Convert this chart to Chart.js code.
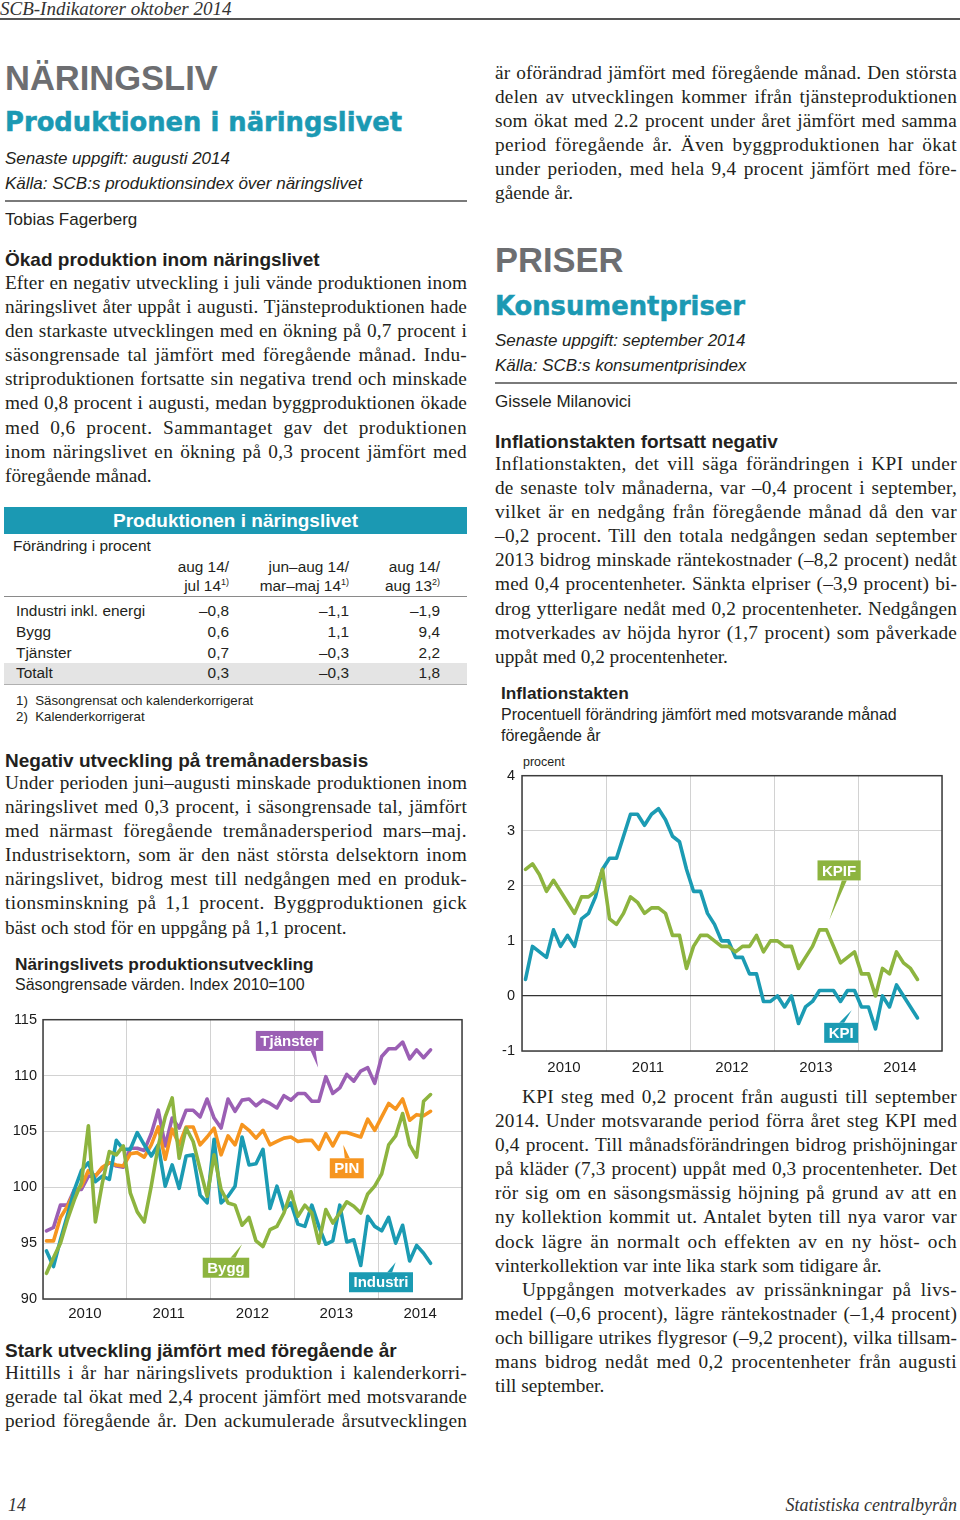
<!DOCTYPE html>
<html lang="sv">
<head>
<meta charset="utf-8">
<title>SCB-Indikatorer oktober 2014</title>
<script src="https://cdn.jsdelivr.net/npm/chart.js@4.4.1/dist/chart.umd.min.js"></script>
<style>
  html, body { margin: 0; padding: 0; background: #fff; }
  body { width: 960px; height: 1520px; position: relative; overflow: hidden;
         font-family: "Liberation Sans", Arial, sans-serif; color: #231f20; }
  .abs { position: absolute; white-space: nowrap; line-height: 1; }
  .serif { font-family: "Liberation Serif", "Times New Roman", serif; }
  .sec { font-size: 34.5px; font-weight: bold; color: #6d6e71; }
  .title { font-family: "DejaVu Sans", sans-serif; font-size: 25.8px; font-weight: bold;
           color: #1b99b3; -webkit-text-stroke: 0.5px #1b99b3; }
  .meta { font-size: 17px; font-style: italic; }
  .auth { font-size: 17px; }
  .h3 { font-size: 19px; font-weight: bold; }
  .rule { position: absolute; height: 2px; background: #7a7a7a; }
  .para { position: absolute; font-family: "Liberation Serif", "Times New Roman", serif;
          font-size: 19.3px; color: #231f20; }
  .ln { height: 24.1px; line-height: 24.1px; white-space: nowrap; }
  .tbl { font-size: 15.4px; }
  .r { text-align: right; width: 160px; }
  sup { font-size: 9px; vertical-align: 6px; line-height: 0; }
  .cbox { position: absolute; }
</style>
</head>
<body>

<div class="abs serif" style="left:0;top:-1px;font-size:19px;font-style:italic;color:#333">SCB-Indikatorer oktober 2014</div>
<div class="rule" style="left:0;top:18px;width:960px;height:1.5px;background:#555"></div>

<!-- vänster spalt -->
<div class="abs sec" style="left:5px;top:61px">NÄRINGSLIV</div>
<div class="abs title" style="left:5px;top:110px">Produktionen i näringslivet</div>
<div class="abs meta" style="left:5px;top:150px">Senaste uppgift: augusti 2014</div>
<div class="abs meta" style="left:5px;top:175px">Källa: SCB:s produktionsindex över näringslivet</div>
<div class="rule" style="left:5px;top:200px;width:462px"></div>
<div class="abs auth" style="left:5px;top:211px">Tobias Fagerberg</div>
<div class="abs h3" style="left:5px;top:250px">Ökad produktion inom näringslivet</div>
<div id="p1" class="para" style="left:5px;top:271px;width:462px"></div>

<!-- tabell -->
<div class="abs" style="left:4px;top:507px;width:463px;height:27px;background:#1b99b3"></div>
<div class="abs" style="left:4px;top:511px;width:463px;text-align:center;color:#fff;font-weight:bold;font-size:19px">Produktionen i näringslivet</div>
<div class="abs tbl" style="left:13px;top:538px">Förändring i procent</div>
<div class="abs tbl r" style="left:69px;top:559px">aug 14/</div>
<div class="abs tbl r" style="left:189px;top:559px">jun–aug 14/</div>
<div class="abs tbl r" style="left:280px;top:559px">aug 14/</div>
<div class="abs tbl r" style="left:69px;top:578px">jul 14<sup>1)</sup></div>
<div class="abs tbl r" style="left:189px;top:578px">mar–maj 14<sup>1)</sup></div>
<div class="abs tbl r" style="left:280px;top:578px">aug 13<sup>2)</sup></div>
<div class="abs" style="left:4px;top:596px;width:463px;height:1px;background:#8a8a8a"></div>
<div class="abs" style="left:4px;top:663px;width:463px;height:21px;background:#e4e4e4"></div>
<div class="abs" style="left:4px;top:684px;width:463px;height:1px;background:#b0b0b0"></div>
<div id="tbody"></div>
<div class="abs" style="left:16px;top:694px;font-size:13.3px">1)&nbsp; Säsongrensat och kalenderkorrigerat</div>
<div class="abs" style="left:16px;top:710px;font-size:13.3px">2)&nbsp; Kalenderkorrigerat</div>

<div class="abs h3" style="left:5px;top:751px">Negativ utveckling på tremånadersbasis</div>
<div id="p2" class="para" style="left:5px;top:771px;width:462px"></div>

<div class="abs" style="left:15px;top:956px;font-size:17.3px;font-weight:bold">Näringslivets produktionsutveckling</div>
<div class="abs" style="left:15px;top:977px;font-size:16px">Säsongrensade värden. Index 2010=100</div>
<div class="cbox" style="left:0;top:1005px;width:470px;height:325px"><canvas id="prodChart"></canvas></div>

<div class="abs h3" style="left:5px;top:1341px">Stark utveckling jämfört med föregående år</div>
<div id="p3" class="para" style="left:5px;top:1361px;width:462px"></div>

<!-- höger spalt -->
<div id="p4" class="para" style="left:495px;top:61px;width:462px"></div>
<div class="abs sec" style="left:495px;top:243px">PRISER</div>
<div class="abs title" style="left:495px;top:294px">Konsumentpriser</div>
<div class="abs meta" style="left:495px;top:332px">Senaste uppgift: september 2014</div>
<div class="abs meta" style="left:495px;top:357px">Källa: SCB:s konsumentprisindex</div>
<div class="rule" style="left:495px;top:382px;width:462px"></div>
<div class="abs auth" style="left:495px;top:393px">Gissele Milanovici</div>
<div class="abs h3" style="left:495px;top:432px">Inflationstakten fortsatt negativ</div>
<div id="p5" class="para" style="left:495px;top:452px;width:462px"></div>

<div class="abs" style="left:501px;top:685px;font-size:17.3px;font-weight:bold">Inflationstakten</div>
<div class="abs" style="left:501px;top:707px;font-size:16px">Procentuell förändring jämfört med motsvarande månad</div>
<div class="abs" style="left:501px;top:728px;font-size:16px">föregående år</div>
<div class="abs" style="left:523px;top:756px;font-size:12.5px">procent</div>
<div class="cbox" style="left:490px;top:760px;width:470px;height:320px"><canvas id="kpiChart"></canvas></div>

<div id="p6" class="para" style="left:495px;top:1085px;width:462px"></div>

<div class="abs serif" style="left:8px;top:1496px;font-size:18px;font-style:italic;color:#333">14</div>
<div class="abs serif" style="right:3px;top:1496px;font-size:18px;font-style:italic;color:#333">Statistiska centralbyrån</div>

<script>
// x-axelns årsetiketter
const years = ['2010', '2011', '2012', '2013', '2014'];

// Näringslivets produktion, jan 2010 - aug 2014, säsongrensat index 2010=100
const tjanster = [96.1, 96.4, 98.4, 98.4, 99.8, 99.8, 101.0, 101.0, 101.7, 102.2, 101.9, 101.8,
    103.5, 103.5, 103.3, 104.8, 106.9, 103.7, 106.2, 105.3, 106.9, 106.9, 106.3, 107.9,
    106.2, 105.3, 107.9, 106.8, 107.8, 107.9, 107.3, 107.8, 107.5, 107.1, 108.2, 107.8,
    108.4, 108.4, 107.7, 107.7, 109.9, 108.4, 108.9, 110.1, 109.5, 110.4, 110.7, 109.3,
    111.7, 112.4, 112.4, 113.0, 111.5, 112.3, 111.6, 112.3];
const pin = [95.2, 95.2, 97.3, 98.3, 99.6, 100.1, 101.5, 101.0, 101.8, 102.2, 102.0, 101.9,
    103.0, 103.1, 102.7, 103.8, 105.4, 102.5, 105.2, 103.8, 105.4, 105.4, 103.8, 104.5,
    105.3, 102.9, 104.6, 103.8, 105.6, 105.1, 104.4, 105.1, 103.8, 104.1, 104.4, 104.5,
    104.1, 104.2, 104.2, 103.4, 104.8, 103.7, 104.9, 104.9, 104.7, 104.5, 106.1, 105.1,
    106.3, 107.5, 107.0, 107.9, 106.0, 106.5, 106.4, 106.8];
const industri = [94.3, 92.9, 95.3, 97.5, 99.8, 101.5, 102.2, 100.5, 101.0, 100.7, 104.2, 103.4,
    103.4, 104.9, 103.8, 102.8, 103.8, 100.1, 102.0, 99.9, 102.8, 102.9, 99.3, 98.6,
    104.3, 98.6, 99.2, 100.1, 104.5, 102.0, 102.1, 103.4, 98.1, 100.1, 98.0, 98.6,
    96.7, 96.5, 98.4, 96.5, 94.9, 95.2, 98.4, 95.1, 95.3, 93.0, 97.4, 96.5,
    96.1, 97.3, 95.0, 96.6, 93.4, 94.8, 94.1, 93.2];
const bygg = [92.3, 93.7, 95.0, 97.1, 98.9, 100.4, 105.5, 96.9, 100.4, 103.2, 102.9, 103.7,
    99.5, 97.8, 96.9, 100.1, 103.7, 106.3, 108.0, 102.6, 105.3, 104.1, 101.6, 99.2,
    102.9, 99.8, 98.6, 98.4, 96.6, 97.3, 95.2, 94.7, 96.2, 96.5, 97.7, 99.6,
    97.4, 98.4, 97.7, 95.0, 98.0, 96.8, 97.7, 98.7, 98.3, 97.7, 99.4, 100.1,
    101.2, 103.8, 104.6, 106.6, 103.8, 102.7, 107.7, 108.3];

// Inflationstakten, jan 2010 - sep 2014, procent
const kpi = [0.3, 0.9, 0.8, 0.7, 1.2, 0.9, 1.1, 0.9, 1.4, 1.5, 1.8, 2.3,
    2.5, 2.5, 2.9, 3.3, 3.3, 3.1, 3.3, 3.4, 3.2, 2.9, 2.8, 2.3,
    1.9, 1.9, 1.5, 1.3, 1.0, 1.0, 0.7, 0.7, 0.4, 0.4, -0.1, -0.1,
    0.0, -0.2, 0.0, -0.5, -0.2, -0.1, 0.1, 0.1, 0.1, -0.1, 0.1, 0.1,
    -0.2, -0.2, -0.6, 0.0, -0.2, 0.2, 0.0, -0.2, -0.4];
const kpif = [2.3, 2.4, 2.2, 1.9, 2.1, 1.9, 1.7, 1.5, 1.8, 1.8, 1.9, 2.3,
    1.4, 1.3, 1.5, 1.8, 1.7, 1.5, 1.6, 1.6, 1.5, 1.1, 1.1, 0.5,
    0.9, 1.1, 1.1, 1.0, 0.9, 0.9, 0.8, 0.9, 0.9, 1.1, 0.8, 1.0,
    1.0, 0.9, 0.9, 0.5, 0.7, 0.9, 1.2, 1.2, 0.9, 0.6, 0.7, 0.8,
    0.4, 0.4, 0.0, 0.5, 0.4, 0.8, 0.6, 0.5, 0.3];

const COL = {
    purple: '#9b5fb4',
    orange: '#f6951f',
    teal: '#1b9bb3',
    green: '#8db43f',
    grid: '#d2d2d2'
};

// brödtext, rad för rad som i originalet
const p1 = [
    'Efter en negativ utveckling i juli vände produktionen inom',
    'näringslivet åter uppåt i augusti. Tjänsteproduktionen hade',
    'den starkaste utvecklingen med en ökning på 0,7 procent i',
    'säsongrensade tal jämfört med föregående månad. Indu-',
    'striproduktionen fortsatte sin negativa trend och minskade',
    'med 0,8 procent i augusti, medan byggproduktionen ökade',
    'med 0,6 procent. Sammantaget gav det produktionen',
    'inom näringslivet en ökning på 0,3 procent jämfört med',
    'föregående månad.'
];
const p2 = [
    'Under perioden juni–augusti minskade produktionen inom',
    'näringslivet med 0,3 procent, i säsongrensade tal, jämfört',
    'med närmast föregående tremånadersperiod mars–maj.',
    'Industrisektorn, som är den näst största delsektorn inom',
    'näringslivet, bidrog mest till nedgången med en produk-',
    'tionsminskning på 1,1 procent. Byggproduktionen gick',
    'bäst och stod för en uppgång på 1,1 procent.'
];
const p3 = [
    'Hittills i år har näringslivets produktion i kalenderkorri-',
    'gerade tal ökat med 2,4 procent jämfört med motsvarande',
    'period föregående år. Den ackumulerade årsutvecklingen'
];
const p4 = [
    'är oförändrad jämfört med föregående månad. Den största',
    'delen av utvecklingen kommer ifrån tjänsteproduktionen',
    'som ökat med 2.2 procent under året jämfört med samma',
    'period föregående år. Även byggproduktionen har ökat',
    'under perioden, med hela 9,4 procent jämfört med före-',
    'gående år.'
];
const p5 = [
    'Inflationstakten, det vill säga förändringen i KPI under',
    'de senaste tolv månaderna, var –0,4 procent i september,',
    'vilket är en nedgång från föregående månad då den var',
    '–0,2 procent. Till den totala nedgången sedan september',
    '2013 bidrog minskade räntekostnader (–8,2 procent) nedåt',
    'med 0,4 procentenheter. Sänkta elpriser (–3,9 procent) bi-',
    'drog ytterligare nedåt med 0,2 procentenheter. Nedgången',
    'motverkades av höjda hyror (1,7 procent) som påverkade',
    'uppåt med 0,2 procentenheter.'
];
const p6a = [
    'KPI steg med 0,2 procent från augusti till september',
    '2014. Under motsvarande period förra året steg KPI med',
    '0,4 procent. Till månadsförändringen bidrog prishöjningar',
    'på kläder (7,3 procent) uppåt med 0,3 procentenheter. Det',
    'rör sig om en säsongsmässig höjning på grund av att en',
    'ny kollektion kommit ut. Antalet byten till nya varor var',
    'dock lägre än normalt och effekten av en ny höst- och',
    'vinterkollektion var inte lika stark som tidigare år.'
];
const p6b = [
    'Uppgången motverkades av prissänkningar på livs-',
    'medel (–0,6 procent), lägre räntekostnader (–1,4 procent)',
    'och billigare utrikes flygresor (–9,2 procent), vilka tillsam-',
    'mans bidrog nedåt med 0,2 procentenheter från augusti',
    'till september.'
];

const tableRows = [
    ['Industri inkl. energi', '–0,8', '–1,1', '–1,9'],
    ['Bygg', '0,6', '1,1', '9,4'],
    ['Tjänster', '0,7', '–0,3', '2,2'],
    ['Totalt', '0,3', '–0,3', '1,8']
];

function addLines(el, lines, opts) {
    lines.forEach((text, i) => {
        const div = document.createElement('div');
        div.className = 'ln';
        const span = document.createElement('span');
        span.textContent = text;
        div.appendChild(span);
        const indent = (i === 0 && opts.indent) ? opts.indent : 0;
        div.style.paddingLeft = indent + 'px';
        div.dataset.w = 462 - indent;
        div.dataset.just = (i < lines.length - 1 || opts.continues) ? '1' : '0';
        el.appendChild(div);
    });
}

// spärra/knip raderna så att de fyller spaltbredden
function justifyAll() {
    document.querySelectorAll('.ln').forEach(div => {
        const span = div.firstChild;
        span.style.wordSpacing = '0px';
        span.style.letterSpacing = '0px';
        const target = +div.dataset.w;
        const text = span.textContent;
        let w = span.getBoundingClientRect().width;
        if (w > target) {
            span.style.letterSpacing = ((target - w) / text.length) + 'px';
            return;
        }
        if (div.dataset.just !== '1') return;
        const ls = Math.min(0.45, (target - w) * 0.5 / text.length);
        span.style.letterSpacing = ls + 'px';
        w = span.getBoundingClientRect().width;
        const spaces = (text.match(/ /g) || []).length;
        if (spaces && w < target) {
            span.style.wordSpacing = ((target - w) / spaces) + 'px';
        }
    });
}

addLines(document.getElementById('p1'), p1, {});
addLines(document.getElementById('p2'), p2, {});
addLines(document.getElementById('p3'), p3, { continues: true });
addLines(document.getElementById('p4'), p4, {});
addLines(document.getElementById('p5'), p5, {});
const p6 = document.getElementById('p6');
addLines(p6, p6a, { indent: 27 });
addLines(p6, p6b, { indent: 27 });
justifyAll();
if (document.fonts) document.fonts.ready.then(justifyAll);

// tabellrader
const rowTops = [603, 624, 645, 665];
const colRight = [229, 349, 440];
const tbody = document.getElementById('tbody');
tableRows.forEach((row, r) => {
    const lab = document.createElement('div');
    lab.className = 'abs tbl';
    lab.style.left = '16px';
    lab.style.top = rowTops[r] + 'px';
    lab.textContent = row[0];
    tbody.appendChild(lab);
    for (let c = 1; c < 4; c++) {
        const cell = document.createElement('div');
        cell.className = 'abs tbl r';
        cell.style.left = (colRight[c - 1] - 160) + 'px';
        cell.style.top = rowTops[r] + 'px';
        cell.textContent = row[c];
        tbody.appendChild(cell);
    }
});

// --- diagram ---
Chart.defaults.font.family = '"Liberation Sans", Arial, sans-serif';

const framePlugin = {
    id: 'frame',
    afterDatasetsDraw(chart) {
        const { ctx, chartArea: a } = chart;
        ctx.save();
        ctx.strokeStyle = '#3c3c3c';
        ctx.lineWidth = 1.5;
        ctx.strokeRect(a.left, a.top, a.right - a.left, a.bottom - a.top);
        ctx.restore();
    }
};

// färgade etiketter med pekare
const tagPlugin = {
    id: 'tags',
    afterDraw(chart, args, opts) {
        const { ctx } = chart;
        const xs = chart.scales.x, ys = chart.scales.y;
        ctx.save();
        ctx.font = 'bold 15px "Liberation Sans", Arial, sans-serif';
        (opts.items || []).forEach(t => {
            const cx = xs.getPixelForValue(t.x), cy = ys.getPixelForValue(t.y);
            const tx = xs.getPixelForValue(t.tipX), ty = ys.getPixelForValue(t.tipY);
            const w = ctx.measureText(t.text).width + 9, h = 20;
            const left = cx - w / 2, top = cy - h / 2;
            const by = ty > cy ? top + h : top;
            const bx = tx + t.lean;
            ctx.fillStyle = t.color;
            ctx.beginPath();
            ctx.moveTo(bx - 2.5, by);
            ctx.lineTo(bx + 2.5, by);
            ctx.lineTo(tx, ty);
            ctx.closePath();
            ctx.fill();
            ctx.fillRect(left, top, w, h);
            ctx.fillStyle = '#fff';
            ctx.textAlign = 'center';
            ctx.textBaseline = 'middle';
            ctx.fillText(t.text, cx, cy + 1);
        });
        ctx.restore();
    }
};

const pts = arr => arr.map((v, i) => ({ x: i + 0.5, y: v }));

function makeChart(id, cfg) {
    const canvas = document.getElementById(id);
    if (!canvas) return null;
    return new Chart(canvas.getContext('2d'), {
        type: 'line',
        data: {
            datasets: cfg.series.map(s => ({
                label: s.label,
                data: pts(s.values),
                borderColor: s.color,
                borderWidth: 3.6,
                pointRadius: 0,
                tension: 0,
                borderJoinStyle: 'round',
                borderCapStyle: 'round',
                order: s.order
            }))
        },
        options: {
            responsive: true,
            maintainAspectRatio: false,
            animation: false,
            layout: { padding: cfg.padding },
            plugins: {
                legend: { display: false },
                tooltip: { enabled: false },
                tags: { items: cfg.tags }
            },
            scales: {
                x: {
                    type: 'linear',
                    min: 0,
                    max: 60,
                    afterFit: s => { s.height = cfg.xHeight; },
                    ticks: {
                        stepSize: 6,
                        autoSkip: false,
                        maxRotation: 0,
                        padding: cfg.xPad,
                        color: '#1a1a1a',
                        font: { size: 15 },
                        callback: v => (v % 12 === 6 ? years[(v - 6) / 12] : '')
                    },
                    grid: {
                        drawTicks: false,
                        color: c => (c.tick && c.tick.value % 12 === 0 ? COL.grid : 'rgba(0,0,0,0)')
                    },
                    border: { display: false }
                },
                y: {
                    min: cfg.yMin,
                    max: cfg.yMax,
                    afterFit: s => { s.width = cfg.yWidth; },
                    ticks: {
                        stepSize: cfg.yStep,
                        padding: cfg.yPad,
                        color: '#1a1a1a',
                        font: { size: 14.5 }
                    },
                    grid: {
                        drawTicks: false,
                        color: c => (cfg.zeroLine && c.tick && c.tick.value === 0 ? '#333' : COL.grid),
                        lineWidth: c => (cfg.zeroLine && c.tick && c.tick.value === 0 ? 1.3 : 1)
                    },
                    border: { display: false }
                }
            }
        },
        plugins: [framePlugin, tagPlugin]
    });
}

makeChart('prodChart', {
    series: [
        { label: 'Bygg', values: bygg, color: COL.green, order: 1 },
        { label: 'Industri', values: industri, color: COL.teal, order: 2 },
        { label: 'PIN', values: pin, color: COL.orange, order: 3 },
        { label: 'Tjänster', values: tjanster, color: COL.purple, order: 4 }
    ],
    tags: [
        { text: 'Tjänster', color: COL.purple, x: 35.3, y: 113.1, tipX: 39.4, tipY: 110.7, lean: -5 },
        { text: 'PIN', color: COL.orange, x: 43.5, y: 101.7, tipX: 43.0, tipY: 103.8, lean: 4 },
        { text: 'Bygg', color: COL.green, x: 26.2, y: 92.8, tipX: 28.5, tipY: 94.9, lean: -9 },
        { text: 'Industri', color: COL.teal, x: 48.4, y: 91.5, tipX: 50.5, tipY: 93.3, lean: -6 }
    ],
    padding: { top: 14, right: 8, left: 0, bottom: 0 },
    xHeight: 31,
    xPad: 6,
    yWidth: 43,
    yPad: 6,
    yMin: 90,
    yMax: 115,
    yStep: 5,
    zeroLine: false
});

makeChart('kpiChart', {
    series: [
        { label: 'KPIF', values: kpif, color: COL.green, order: 1 },
        { label: 'KPI', values: kpi, color: COL.teal, order: 2 }
    ],
    tags: [
        { text: 'KPIF', color: COL.green, x: 45.3, y: 2.28, tipX: 43.9, tipY: 1.38, lean: 15 },
        { text: 'KPI', color: COL.teal, x: 45.6, y: -0.67, tipX: 47.1, tipY: -0.26, lean: -10 }
    ],
    padding: { top: 12, right: 18, left: 0, bottom: 0 },
    xHeight: 29,
    xPad: 8,
    yWidth: 32,
    yPad: 7,
    yMin: -1,
    yMax: 4,
    yStep: 1,
    zeroLine: true
});
</script>
</body>
</html>
